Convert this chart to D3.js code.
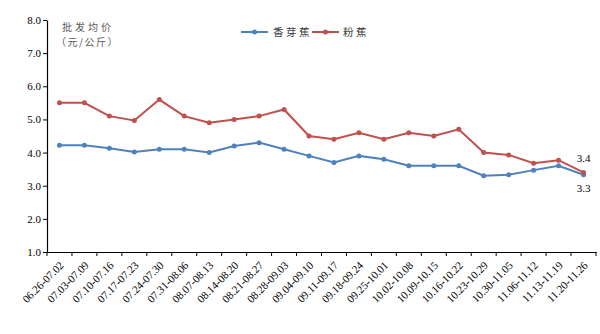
<!DOCTYPE html>
<html><head><meta charset="utf-8">
<script src="https://cdn.jsdelivr.net/npm/d3@7/dist/d3.min.js"></script>
<style>body{margin:0;background:#fff}svg{display:block}</style>
</head><body><svg id="c" width="600" height="334"></svg>
<script>
const categories = ["06.26-07.02","07.03-07.09","07.10-07.16","07.17-07.23","07.24-07.30","07.31-08.06","08.07-08.13","08.14-08.20","08.21-08.27","08.28-09.03","09.04-09.10","09.11-09.17","09.18-09.24","09.25-10.01","10.02-10.08","10.09-10.15","10.16-10.22","10.23-10.29","10.30-11.05","11.06-11.12","11.13-11.19","11.20-11.26"];
const xiangya = [4.22,4.22,4.13,4.02,4.10,4.10,4.00,4.20,4.30,4.10,3.90,3.70,3.90,3.80,3.60,3.60,3.60,3.30,3.33,3.47,3.60,3.33];
const fenjiao = [5.50,5.50,5.10,4.97,5.60,5.10,4.90,5.00,5.10,5.30,4.50,4.40,4.60,4.40,4.60,4.50,4.70,4.00,3.93,3.68,3.77,3.40];
const yTicks = [1,2,3,4,5,6,7,8];
const seriesNames = ["香芽蕉","粉蕉"];
const colors = ["#4f81bd","#c0504d"];

const svg = d3.select("#c");
const L = 47, R = 596, T = 20, B = 252;
const x = d3.scaleBand().domain(categories).range([L, R]);
const y = d3.scaleLinear().domain([1, 8]).range([B, T]);
const serif = "'Liberation Serif','Times New Roman',serif";

// y axis
const ya = svg.append("g").attr("transform", `translate(${L},0)`)
  .call(d3.axisLeft(y).tickValues(yTicks).tickFormat(d3.format(".1f")).tickSize(4).tickSizeOuter(0));
ya.select(".domain").attr("stroke", "#000").attr("stroke-width", 1.2);
ya.selectAll(".tick line").attr("stroke", "#000");
ya.selectAll("text").attr("font-family", serif).attr("font-size", 11).attr("fill", "#000").attr("x", -6);

// x axis
const xa = svg.append("g").attr("transform", `translate(0,${B})`)
  .call(d3.axisBottom(x).tickSize(0).tickSizeOuter(0));
xa.select(".domain").attr("stroke", "#000").attr("stroke-width", 1.2);
xa.selectAll(".tick line").remove();
xa.selectAll(".tick text")
  .attr("font-family", serif).attr("font-size", 11).attr("fill", "#000")
  .attr("text-anchor", "end").attr("x", 0).attr("y", 0).attr("dy", 0)
  .attr("transform", "translate(5,14) rotate(-45)");
// boundary ticks
const bounds = categories.map(c => x(c)).concat([R]);
xa.selectAll(".btick").data(bounds).enter().append("line")
  .attr("x1", d => d).attr("x2", d => d).attr("y1", 0).attr("y2", 4).attr("stroke", "#000");

// lines
const series = [xiangya, fenjiao];
const line = d3.line().x((d, i) => x(categories[i]) + x.bandwidth() / 2).y(d => y(d));
series.forEach((s, k) => {
  svg.append("path").datum(s).attr("d", line).attr("fill", "none")
    .attr("stroke", colors[k]).attr("stroke-width", 2);
  svg.selectAll(".p" + k).data(s).enter().append("circle")
    .attr("cx", (d, i) => x(categories[i]) + x.bandwidth() / 2).attr("cy", d => y(d))
    .attr("r", 2.5).attr("fill", colors[k]);
});

// end labels
const lastX = x(categories[categories.length - 1]) + x.bandwidth() / 2;
svg.append("text").attr("x", lastX).attr("y", y(fenjiao[fenjiao.length - 1]) - 10)
  .attr("text-anchor", "middle").attr("font-family", serif).attr("font-size", 11).text(fenjiao[fenjiao.length - 1].toFixed(1));
svg.append("text").attr("x", lastX).attr("y", y(xiangya[xiangya.length - 1]) + 17)
  .attr("text-anchor", "middle").attr("font-family", serif).attr("font-size", 11).text(xiangya[xiangya.length - 1].toFixed(1));

// axis title
const cjk = "'Noto Sans CJK SC',sans-serif";
svg.append("text").attr("x", 62).attr("y", 31).attr("font-family", cjk).attr("font-size", 10)
  .attr("fill", "#595959").attr("letter-spacing", 3).text("批发均价");
svg.append("text").attr("x", 56).attr("y", 46).attr("font-family", cjk).attr("font-size", 10)
  .attr("fill", "#595959").attr("letter-spacing", 1.5).text("（元/公斤）");

// legend
const lg = [{x: 241, tx: 273}, {x: 312, tx: 343}];
seriesNames.forEach((n, k) => {
  const g = svg.append("g");
  g.append("line").attr("x1", lg[k].x).attr("x2", lg[k].x + 27).attr("y1", 32).attr("y2", 32)
    .attr("stroke", colors[k]).attr("stroke-width", 2);
  g.append("circle").attr("cx", lg[k].x + 13.5).attr("cy", 32).attr("r", 2.5).attr("fill", colors[k]);
  g.append("text").attr("x", lg[k].tx).attr("y", 36).attr("font-family", cjk).attr("font-size", 10.5)
    .attr("fill", "#404040").attr("letter-spacing", 2.5).text(n);
});
</script></body></html>
